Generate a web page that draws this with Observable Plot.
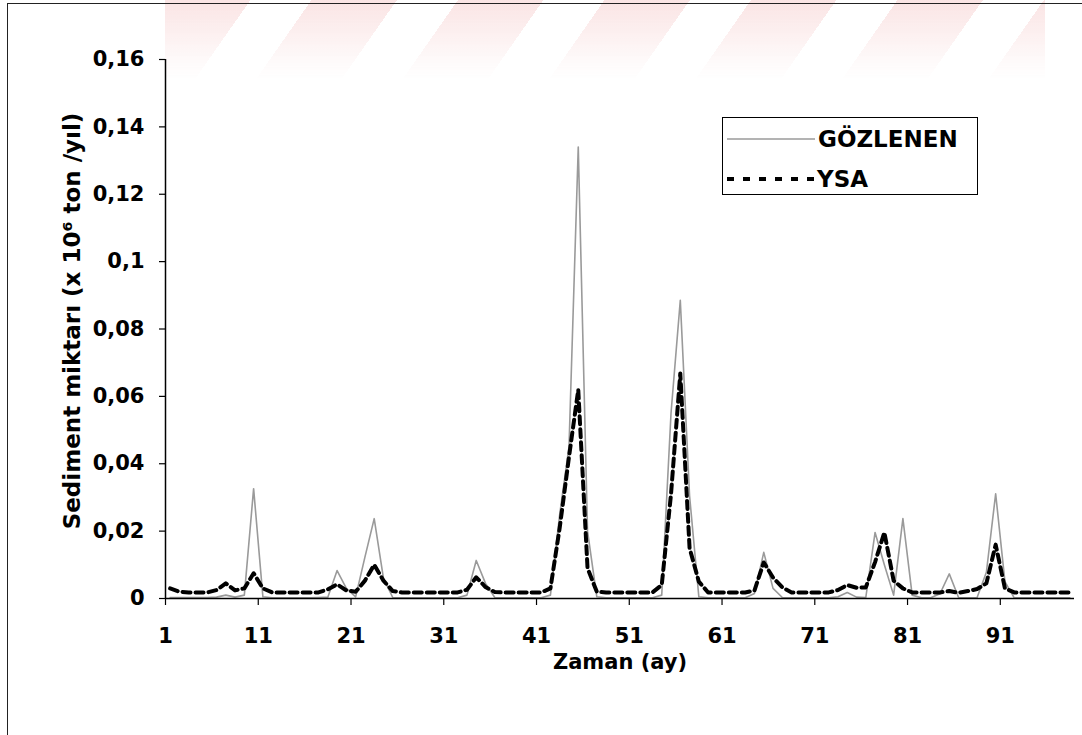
<!DOCTYPE html>
<html>
<head>
<meta charset="utf-8">
<script src="https://cdn.jsdelivr.net/npm/d3@7"></script>
<script src="https://cdn.jsdelivr.net/npm/@observablehq/plot@0.6"></script>
<style>
  html, body { margin: 0; padding: 0; background: #fff; }
  #wrap { position: relative; width: 1082px; height: 735px; overflow: hidden; background: #fff; }
  #watermark { position: absolute; left: 165px; top: 0; width: 880px; height: 80px;
    background: repeating-linear-gradient(125deg, rgba(240,170,170,0.32) 0 70px, rgba(255,255,255,0) 70px 120px);
    -webkit-mask-image: linear-gradient(to bottom, rgba(0,0,0,1), rgba(0,0,0,0.15) 80%, rgba(0,0,0,0));
    mask-image: linear-gradient(to bottom, rgba(0,0,0,1), rgba(0,0,0,0.15) 80%, rgba(0,0,0,0)); }
  #frame { position: absolute; left: 7px; top: 3px; width: 1080px; height: 740px;
    border-left: 1px solid #222; border-top: 1px solid #222; }
  #chart { position: absolute; left: 0; top: 0; }
  #chart svg { background: transparent; }
  #legend { position: absolute; left: 722px; top: 117px; width: 254px; height: 76px;
    border: 1.5px solid #000; background: #fff; }
</style>
</head>
<body>
<div id="wrap">
  <div id="watermark"></div>
  <div id="frame"></div>
  <div id="chart"></div>
  <div id="legend">
    <svg width="254" height="76" style="display:block">
      <line x1="4" x2="92" y1="21" y2="21" stroke="#9a9a9a" stroke-width="1.6"></line>
      <line x1="4" x2="92" y1="61" y2="61" stroke="#000" stroke-width="4" stroke-dasharray="7,9"></line>
      <text x="95" y="21" dy="0.36em" font-family="DejaVu Sans" font-weight="bold" font-size="23" fill="#000">GÖZLENEN</text>
      <text x="94" y="61" dy="0.36em" font-family="DejaVu Sans" font-weight="bold" font-size="23" fill="#000">YSA</text>
    </svg>
  </div>
</div>
<script>
// Months 1..98
const months = d3.range(1, 99);

// Observed sediment (GÖZLENEN)
const gozlenen = [
  0.0003, 0.0003, 0.0003, 0.0003, 0.0003, 0.0004, 0.001, 0.0004, 0.001, 0.0326,
  0.0005, 0.0002, 0.0002, 0.0002, 0.0002, 0.0002, 0.0003, 0.0004, 0.0083, 0.003,
  0.0005, 0.0123, 0.0237, 0.006, 0.0003, 0.0002, 0.0002, 0.0002, 0.0002, 0.0002,
  0.0002, 0.0002, 0.001, 0.0113, 0.0045, 0.0003, 0.0002, 0.0002, 0.0002, 0.0002,
  0.0002, 0.001, 0.025, 0.045, 0.134, 0.02, 0.0005, 0.0002, 0.0002, 0.0002,
  0.0002, 0.0002, 0.0002, 0.001, 0.055, 0.0885, 0.0305, 0.0005, 0.0002, 0.0002,
  0.0002, 0.0002, 0.0002, 0.0015, 0.0137, 0.003, 0.0003, 0.0002, 0.0002, 0.0002,
  0.0002, 0.0002, 0.0005, 0.0018, 0.0004, 0.0003, 0.0196, 0.01, 0.001, 0.0237,
  0.001, 0.0002, 0.0002, 0.0014, 0.0073, 0.0003, 0.0002, 0.0003, 0.0078, 0.0311,
  0.005, 0.0002, 0.0002, 0.0002, 0.0002, 0.0002, 0.0002, 0.0002
];

// Model output (YSA)
const ysa = [
  0.003, 0.002, 0.0018, 0.0018, 0.0018, 0.0025, 0.0045, 0.0024, 0.003, 0.0075,
  0.003, 0.0018, 0.0018, 0.0018, 0.0018, 0.0018, 0.0018, 0.0027, 0.0042, 0.0024,
  0.002, 0.0053, 0.01, 0.0053, 0.0022, 0.0018, 0.0018, 0.0018, 0.0018, 0.0018,
  0.0018, 0.0018, 0.0026, 0.0063, 0.0034, 0.0019, 0.0018, 0.0018, 0.0018, 0.0018,
  0.0018, 0.003, 0.021, 0.042, 0.062, 0.009, 0.002, 0.0018, 0.0018, 0.0018,
  0.0018, 0.0018, 0.0018, 0.004, 0.031, 0.0668, 0.015, 0.005, 0.0018, 0.0018,
  0.0018, 0.0018, 0.0018, 0.0024, 0.0107, 0.0062, 0.0033, 0.0018, 0.0018, 0.0018,
  0.0018, 0.0018, 0.0025, 0.004, 0.0032, 0.0033, 0.0108, 0.0196, 0.0053, 0.003,
  0.0018, 0.0018, 0.0018, 0.0018, 0.0022, 0.0017, 0.0022, 0.0028, 0.0045, 0.016,
  0.003, 0.0018, 0.0018, 0.0018, 0.0018, 0.0018, 0.0018, 0.0018
];

const xTickLabels = [1, 11, 21, 31, 41, 51, 61, 71, 81, 91];
const yTicks = [0, 0.02, 0.04, 0.06, 0.08, 0.1, 0.12, 0.14, 0.16];
const yTitle = "Sediment miktarı (x 10⁶ ton /yıl)";
const xTitle = "Zaman (ay)";

const obsData = months.map((m, i) => ({month: m, value: gozlenen[i]}));
const ysaData = months.map((m, i) => ({month: m, value: ysa[i]}));

const FONT = "DejaVu Sans";

const chart = Plot.plot({
  width: 1082,
  height: 735,
  marginLeft: 165,
  marginRight: 8,
  marginTop: 59,
  marginBottom: 137,
  style: {fontFamily: FONT, fontWeight: "bold", background: "transparent", color: "#000"},
  x: {domain: [0.5, 98.5]},
  y: {domain: [0, 0.16]},
  marks: [
    Plot.axisY({
      ticks: yTicks,
      tickFormat: d => String(d).replace(".", ","),
      tickSize: 6,
      tickPadding: 15,
      fontSize: 21,
      label: null,
      stroke: "#000",
      strokeWidth: 1.2
    }),
    Plot.axisX({
      ticks: xTickLabels.map(d => d - 0.5),
      tickFormat: d => String(d + 0.5),
      tickSize: 7,
      tickPadding: 23,
      fontSize: 21,
      label: null,
      stroke: "#000",
      strokeWidth: 1.2
    }),
    Plot.line(obsData, {x: "month", y: "value", stroke: "#9a9a9a", strokeWidth: 1.6}),
    Plot.line(ysaData, {x: "month", y: "value", stroke: "#000", strokeWidth: 4, strokeDasharray: "8,5"}),
    Plot.ruleY([0], {stroke: "#000", strokeWidth: 1.5}),
    Plot.ruleX([0.5], {stroke: "#000", strokeWidth: 1.5}),
    Plot.text([yTitle], {
      frameAnchor: "left", dx: -93, dy: -8, rotate: -90,
      textAnchor: "middle", lineAnchor: "middle",
      text: d => d, fontSize: 23, fontWeight: "bold", fill: "#000"
    }),
    Plot.text([xTitle], {
      frameAnchor: "bottom", dy: 64,
      textAnchor: "middle", lineAnchor: "middle",
      text: d => d, fontSize: 21, fontWeight: "bold", fill: "#000"
    })
  ]
});
document.getElementById("chart").appendChild(chart);
</script>
</body>
</html>
